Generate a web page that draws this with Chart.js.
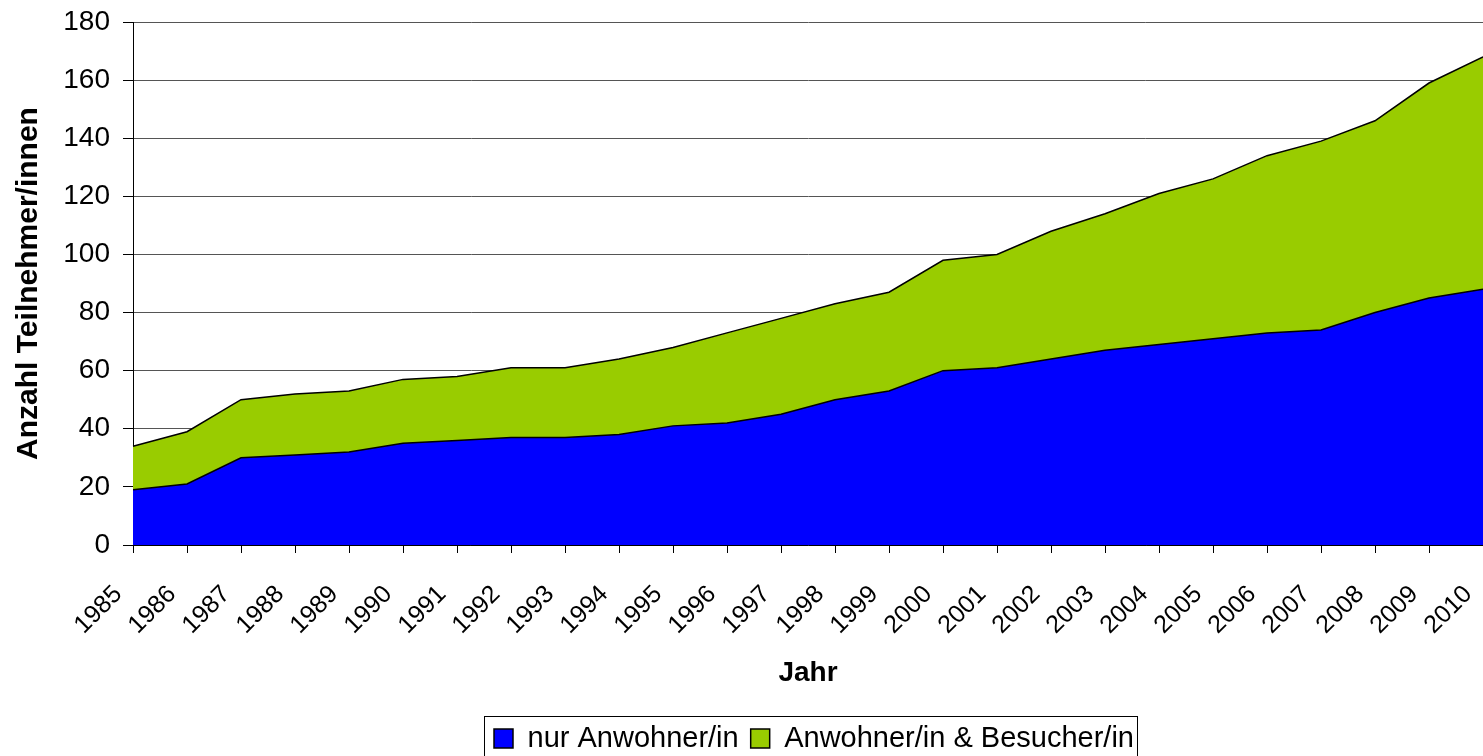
<!DOCTYPE html>
<html>
<head>
<meta charset="utf-8">
<title>Anzahl Teilnehmer/innen</title>
<script src="https://cdn.jsdelivr.net/npm/chart.js@4/dist/chart.umd.min.js"></script>
<style>
    html, body { margin: 0; padding: 0; background: #fff; }
    #wrap { width: 1483px; height: 756px; }
</style>
</head>
<body>
<div id="wrap"><canvas id="chart"></canvas></div>
<script>
// --- data ---
const YEARS = ['1985', '1986', '1987', '1988', '1989', '1990', '1991', '1992', '1993',
    '1994', '1995', '1996', '1997', '1998', '1999', '2000', '2001', '2002', '2003',
    '2004', '2005', '2006', '2007', '2008', '2009', '2010'];

// lower area: residents only
const NUR_ANWOHNER = [19, 21, 30, 31, 32, 35, 36, 37, 37, 38, 41, 42, 45, 50, 53,
    60, 61, 64, 67, 69, 71, 73, 74, 80, 85, 88];

// upper edge of the green area: residents + visitors (total)
const GESAMT = [34, 39, 50, 52, 53, 57, 58, 61, 61, 64, 68, 73, 78, 83, 87,
    98, 100, 108, 114, 121, 126, 134, 139, 146, 159, 168];

const Y_MIN = 0;
const Y_MAX = 180;
const Y_STEP = 20;

const COLORS = {
    blue: '#0000FF',
    green: '#99CC00',
    line: '#000000',
    grid: '#555555'
};

const FONT = 'Liberation Sans, Arial, sans-serif';

// legend placement (the Excel legend sits under the plot area, not the page centre)
const LEGEND_SHIFT_Y = 7;
const LEGEND_START_X = 494;
const LEGEND_PAD = 12;
const LEGEND_FONT = 29;

// moves the legend and draws the frame round it, like the Excel original
const legendFrame = {
    id: 'legendFrame',
    afterLayout(chart) {
        const lg = chart.legend;
        if (!lg || !lg.lineWidths) return;
        const x0 = (lg.left + LEGEND_PAD + lg.right - lg.lineWidths[0]) / 2;
        const dx = LEGEND_START_X - x0;
        lg.left += dx;
        lg.right += dx;
        lg.top += LEGEND_SHIFT_Y;
        lg.bottom += LEGEND_SHIFT_Y;
    },
    afterDraw(chart) {
        const lg = chart.legend;
        if (!lg || !lg.legendHitBoxes || !lg.legendHitBoxes.length) return;
        const boxes = lg.legendHitBoxes;
        const left = Math.min(...boxes.map(b => b.left)) - 10;
        const right = Math.max(...boxes.map(b => b.left + b.width)) + 3;
        const itemMid = lg.top + LEGEND_PAD + LEGEND_FONT / 2;
        const top = itemMid - 23;
        const ctx = chart.ctx;
        ctx.save();
        ctx.strokeStyle = '#000';
        ctx.lineWidth = 1;
        ctx.strokeRect(Math.round(left) + 0.5, Math.round(top) + 0.5, Math.round(right - left), 80);
        ctx.restore();
    }
};

const ctx = document.getElementById('chart').getContext('2d');

new Chart(ctx, {
    type: 'line',
    data: {
        labels: YEARS,
        datasets: [{
            label: 'nur Anwohner/in',
            data: NUR_ANWOHNER,
            backgroundColor: COLORS.blue,
            borderColor: COLORS.line,
            borderWidth: 1.5,
            fill: 'origin',
            pointRadius: 0,
            tension: 0
        }, {
            label: 'Anwohner/in & Besucher/in',
            data: GESAMT,
            backgroundColor: COLORS.green,
            borderColor: COLORS.line,
            borderWidth: 1.5,
            fill: '-1',
            pointRadius: 0,
            tension: 0
        }]
    },
    options: {
        responsive: true,
        maintainAspectRatio: false,
        animation: false,
        layout: { padding: { top: 22, left: 0, right: 0, bottom: 0 } },
        plugins: {
            tooltip: { enabled: false },
            legend: {
                display: true,
                position: 'bottom',
                labels: {
                    color: '#000',
                    font: { family: FONT, size: LEGEND_FONT },
                    boxWidth: 19,
                    boxHeight: 19,
                    padding: LEGEND_PAD
                }
            }
        },
        scales: {
            x: {
                type: 'category',
                offset: false,
                grid: {
                    drawOnChartArea: false,
                    drawTicks: true,
                    tickLength: 8,
                    color: '#000'
                },
                border: { color: '#000', width: 1 },
                ticks: {
                    autoSkip: false,
                    minRotation: 45,
                    maxRotation: 45,
                    color: '#000',
                    padding: 12,
                    font: { family: FONT, size: 25 },
                    // trailing spaces pull the rotated label a little away from its tick
                    callback: (value, i) => YEARS[i] + '   '
                },
                title: {
                    display: true,
                    text: 'Jahr',
                    color: '#000',
                    font: { family: FONT, size: 28, weight: 'bold' },
                    padding: { top: 0, bottom: 15 }
                },
                afterFit(scale) {
                    scale.paddingRight = 0;
                    scale.paddingLeft = 0;
                    scale.height = 160;
                }
            },
            y: {
                min: Y_MIN,
                max: Y_MAX,
                grid: {
                    color: COLORS.grid,
                    tickColor: '#000',
                    tickLength: 10,
                    drawTicks: true
                },
                border: { color: '#000', width: 1 },
                ticks: {
                    stepSize: Y_STEP,
                    color: '#000',
                    padding: 13,
                    font: { family: FONT, size: 28 }
                },
                title: {
                    display: true,
                    text: 'Anzahl Teilnehmer/innen',
                    color: '#000',
                    font: { family: FONT, size: 30, weight: 'bold' },
                    padding: { top: 11, bottom: 0 }
                },
                afterFit(scale) {
                    scale.width = 133;
                    scale.paddingTop = 0;
                    scale.paddingBottom = 0;
                }
            }
        }
    },
    plugins: [legendFrame]
});
</script>
</body>
</html>
